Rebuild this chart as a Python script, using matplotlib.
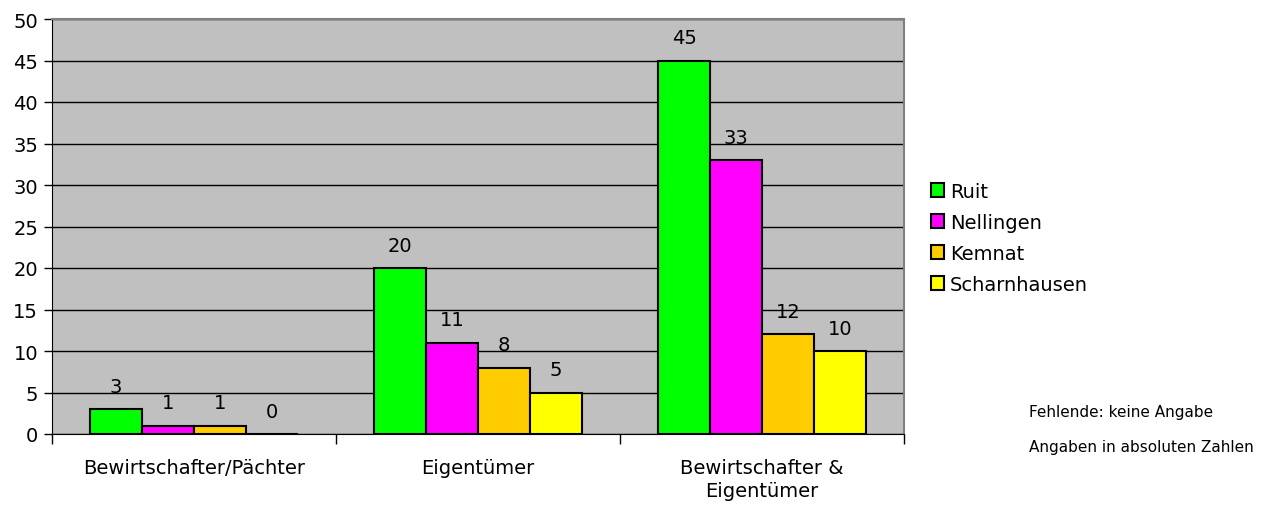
import numpy as np
import matplotlib.pyplot as plt
from matplotlib.patches import Patch

categories = ['Bewirtschafter/Pächter', 'Eigentümer', 'Bewirtschafter &\nEigentümer']
series = ['Ruit', 'Nellingen', 'Kemnat', 'Scharnhausen']
ruit = [3, 20, 45]
nellingen = [1, 11, 33]
kemnat = [1, 8, 12]
scharnhausen = [0, 5, 10]
colors = ['#00FF00', '#FF00FF', '#FFCC00', '#FFFF00']

values = [ruit, nellingen, kemnat, scharnhausen]

plt.rcParams['font.family'] = 'DejaVu Sans'

fig = plt.figure(figsize=(12.68, 5.06), dpi=100)
ax = fig.add_axes([52 / 1268, 71 / 506, 852 / 1268, 415 / 506])
ax.set_facecolor('#C0C0C0')

x = np.arange(len(categories))
width = 0.183
for i, (name, vals) in enumerate(zip(series, values)):
    pos = x + (i - 1.5) * width
    ax.bar(pos, vals, width, color=colors[i], edgecolor='black',
           linewidth=1.5, label=name, zorder=3)
    for xp, v in zip(pos, vals):
        ax.annotate(str(v), (xp, v), xytext=(0, 16.5), textcoords='offset points',
                    ha='center', va='center', fontsize=14)

ax.set_xlim(-0.5, 2.5)
ax.set_ylim(0, 50)
ax.set_yticks(np.arange(0, 51, 5))
ax.yaxis.grid(True, color='black', linewidth=1, zorder=1)
ax.set_axisbelow(True)

ax.set_xticks(x)
ax.set_xticklabels(categories, fontsize=14, linespacing=1.3)
ax.set_xticks(np.arange(-0.5, 2.6, 1), minor=True)
ax.tick_params(axis='x', which='major', length=0, pad=17)
ax.tick_params(axis='x', which='minor', length=7, width=1)
ax.tick_params(axis='y', length=6, width=1, labelsize=14, pad=4)

ax.spines['top'].set_color('#808080')
ax.spines['right'].set_color('#808080')
ax.spines['top'].set_linewidth(1.5)
ax.spines['right'].set_linewidth(1.5)

handles = [Patch(facecolor=c, edgecolor='black', linewidth=1.5) for c in colors]
fig.legend(handles, series, loc='upper left', bbox_to_anchor=(923 / 1268, 1 - 175 / 506),
           frameon=False, fontsize=14, handlelength=0.7, handleheight=0.7,
           handletextpad=0.3, labelspacing=0.62, borderaxespad=0)

fig.text(1029 / 1268, 1 - 413 / 506, 'Fehlende: keine Angabe', fontsize=11, va='center')
fig.text(1029 / 1268, 1 - 448 / 506, 'Angaben in absoluten Zahlen', fontsize=11, va='center')

fig.savefig('out.png', dpi=100)
